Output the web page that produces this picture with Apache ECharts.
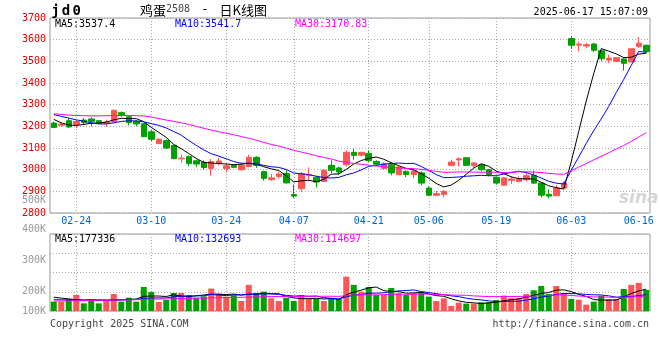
<!DOCTYPE html>
<html><head><meta charset="utf-8">
<script src="https://cdn.jsdelivr.net/npm/echarts@6/dist/echarts.min.js"></script>
<style>html,body{margin:0;padding:0;background:#fff}#c{width:660px;height:360px}</style>
</head><body><div id="c"></div>
<script>
const dates = ['02-19','02-20','02-21','02-24','02-25','02-26','02-27','02-28','03-03','03-04','03-05','03-06','03-07','03-10','03-11','03-12','03-13','03-14','03-17','03-18','03-19','03-20','03-21','03-24','03-25','03-26','03-27','03-28','03-31','04-01','04-02','04-03','04-07','04-08','04-09','04-10','04-11','04-14','04-15','04-16','04-17','04-18','04-21','04-22','04-23','04-24','04-25','04-28','04-29','04-30','05-06','05-07','05-08','05-09','05-12','05-13','05-14','05-15','05-16','05-19','05-20','05-21','05-22','05-23','05-26','05-27','05-28','05-29','05-30','06-03','06-04','06-05','06-06','06-09','06-10','06-11','06-12','06-13','06-16','06-17'];
const labelDates = ['02-24','03-10','03-24','04-07','04-21','05-06','05-19','06-03','06-16'];
const opens = [3215,3205,3226,3209,3229,3234,3226,3214,3220,3263,3244,3223,3212,3175,3120,3134,3112,3050,3060,3041,3034,3006,3031,3005,3020,3000,3015,3057,2991,2954,2969,2982,2885,2912,2972,2965,2946,3020,3008,3023,3080,3067,3074,3038,3005,3023,2977,2992,2978,2985,2915,2882,2886,3020,3045,3055,3018,3022,3000,2965,2928,2951,2946,2954,2974,2938,2886,2880,2915,3605,3575,3571,3580,3549,3506,3500,3511,3497,3569,3574];
const closes = [3195,3211,3197,3223,3218,3223,3214,3220,3274,3254,3218,3211,3152,3140,3140,3100,3051,3053,3028,3026,3010,3037,3040,3018,3011,3020,3057,3020,2960,2962,2980,2939,2878,2982,2977,2943,2997,2997,2989,3080,3066,3080,3042,3025,3028,2985,3012,2978,2994,2938,2882,2889,2900,3035,3050,3020,3031,3000,2977,2938,2962,2957,2958,2972,2938,2882,2878,2915,2938,3574,3580,3577,3551,3512,3515,3517,3491,3558,3584,3545];
const lows = [3192,3198,3192,3192,3208,3200,3212,3197,3217,3243,3205,3200,3152,3131,3118,3095,3048,3031,3018,3012,3000,2972,3020,2988,3008,2995,3011,3008,2949,2949,2959,2936,2868,2898,2946,2918,2943,2985,2975,3015,3046,3060,3035,3020,3000,2974,2974,2966,2960,2928,2877,2880,2872,3015,3015,3018,3009,2992,2969,2931,2928,2935,2942,2946,2934,2872,2868,2877,2912,3557,3546,3562,3543,3500,3492,3497,3457,3497,3562,3538];
const highs = [3222,3217,3238,3229,3238,3241,3228,3231,3278,3269,3249,3228,3215,3183,3145,3140,3114,3069,3065,3046,3043,3049,3054,3028,3023,3031,3069,3062,2995,2980,2989,2997,2932,2989,3011,2969,3003,3043,3014,3088,3097,3083,3088,3043,3034,3031,3016,2997,2998,2992,2923,2902,2906,3046,3057,3057,3035,3028,3000,2969,2966,2969,2969,2988,2995,2943,2908,2929,2946,3618,3592,3585,3585,3554,3531,3518,3515,3558,3612,3577];
const ma5 = [3232,3216,3206,3204,3208.8,3214.4,3215.0,3219.6,3229.8,3237.0,3236.0,3235.4,3221.8,3195.0,3172.2,3148.6,3116.6,3096.8,3074.4,3051.6,3033.6,3030.8,3028.2,3026.2,3023.2,3025.2,3029.2,3025.2,3013.6,3003.8,2995.8,2972.2,2943.8,2948.2,2951.2,2943.8,2955.4,2979.2,2980.6,3001.2,3025.8,3042.4,3051.4,3058.6,3048.2,3032.0,3018.4,3005.6,2999.4,2981.4,2960.8,2936.2,2920.6,2928.8,2951.2,2978.8,3007.2,3027.2,3015.6,2993.2,2981.6,2966.8,2958.4,2957.4,2957.4,2941.4,2925.6,2917.0,2910.2,3037.4,3177.0,3316.8,3444.0,3558.8,3547.0,3534.4,3517.2,3518.6,3533.0,3537.4];
const ma10 = [3254,3246,3238,3230,3224,3216,3211,3211,3216,3222.9,3225.2,3225.2,3220.7,3212.4,3204.6,3192.3,3176.0,3159.3,3134.7,3111.9,3091.1,3073.7,3062.5,3050.3,3037.4,3029.4,3030.0,3026.7,3019.9,3013.5,3010.5,3000.7,2984.5,2980.9,2977.5,2969.8,2963.8,2961.5,2964.4,2976.2,2984.8,2998.9,3015.3,3019.6,3024.7,3028.9,3030.4,3028.5,3029.0,3014.8,2996.4,2977.3,2963.1,2964.1,2966.3,2969.8,2971.7,2973.9,2972.2,2972.2,2980.2,2987.0,2992.8,2986.5,2975.3,2961.5,2946.2,2937.7,2933.8,2997.4,3059.2,3121.2,3180.5,3234.5,3292.2,3355.7,3417.0,3481.3,3545.9,3541.7];
const ma30 = [3258,3255,3252,3250,3249,3248,3248,3249,3250,3250,3250,3249,3248,3243,3236,3229,3223,3216,3209,3200,3191,3183,3175,3168,3161,3153,3145,3136,3126,3116.1,3108.9,3099.9,3089.2,3081.2,3073.2,3063.8,3056.6,3049.2,3039.7,3033.9,3028.8,3024.4,3020.8,3016.9,3013.2,3009.4,3008.1,3005.6,3004.4,3001.5,2997.2,2992.3,2987.6,2988.2,2989.5,2989.5,2988.6,2988.0,2988.5,2987.7,2987.1,2987.7,2990.4,2990.1,2988.8,2986.7,2982.8,2980.0,2978.3,2994.8,3011.9,3028.5,3045.5,3061.7,3077.9,3095.7,3111.6,3131.0,3150.6,3170.83];
// volume in thousands
const volumes = [76,76,98,130,62,90,62,90,138,76,108,76,195,155,73,90,146,146,130,108,119,182,141,117,128,81,212,146,157,103,81,108,81,130,98,98,81,98,98,279,212,157,195,130,130,187,144,130,144,152,117,81,103,41,68,60,60,71,71,90,125,103,103,138,168,203,138,203,146,98,92,52,76,124,97,98,179,212,228,171];
const volMa5 = [112,105,98,92,88.4,91.2,88.4,86.8,88.4,91.2,94.8,97.6,118.6,122,121.4,117.8,131.8,122,117,124,129.8,137,136,133.4,137.4,129.8,135.8,136.8,144.8,139.8,139.8,119,106,100.6,99.6,103,97.6,101,94.6,130.8,153.6,168.8,188.2,194.6,164.8,159.8,157.2,144.2,147,151.4,137.4,124.8,119.4,98.8,82,70.6,66.4,60,66,70.4,83.4,92,98.4,111.8,127.4,143,150,170,171.6,157.6,135.4,118.2,92.8,88.4,88.2,89.4,114.8,142,162.8,177.336];
const volMa10 = [92,91,90,90,89,89,89,89,89,89.8,93,93,102.7,105.2,106.3,106.3,114.7,120.3,119.5,122.7,123.8,134.4,129,125.2,130.7,129.8,136.4,136.4,139.1,138.6,134.8,127.4,121.4,122.7,119.7,121.4,108.3,103.5,97.6,115.2,128.3,133.2,144.6,144.6,147.8,156.7,163,166.2,170.8,158.1,148.6,141,131.8,122.9,116.7,104,95.6,89.7,82.4,76.2,77,79.2,79.2,88.9,98.9,113.2,121,134.2,141.7,142.5,139.2,134.1,131.4,130,122.9,112.4,116.5,117.4,125.6,132.693];
const volMa30 = [80,81,82,83,84,85,86,87,88,89,90,92,94,96,97,98,100,101,102,104,105,107,108,109,110,111,113,114,116,117,117.2,118.3,117.7,117.7,118.9,119.2,119.8,120.1,118.7,125.5,129,131.7,131.7,130.8,132.7,136,135.9,135.4,135.8,137.3,137.2,133.9,132.6,130.1,128.1,127.4,122.3,119.8,116.9,116.5,118,117.8,118.5,118.8,121.1,124.6,126.5,130,131.6,125.6,121.6,118.1,114.1,113.9,112.8,109.9,111,113.8,116.6,114.697];
const volTickLabels = ['100K','200K','300K','400K','500K'];

const UP = '#ff5555', DOWN = '#00a000';
const MONO = '"DejaVu Sans Mono", monospace';
const dotted = {color: '#aaaaaa', type: [1, 2], width: 1};
const gridDates = labelDates.filter(d => d !== '06-16');
const last = a => a[a.length - 1];

const chart = echarts.init(document.getElementById('c'), null, {renderer: 'canvas'});
const lineS = (name, data, color, xi) => ({
  name, type: 'line', data, xAxisIndex: xi, yAxisIndex: xi, symbol: 'none', showSymbol: false,
  lineStyle: {color, width: 1}, silent: true, z: 5
});
const txt = (text, x, y, fill, align) => ({
  type: 'text', x, y, silent: true, z: 100,
  style: {text, fill, font: '10px ' + MONO, textAlign: align || 'left', textVerticalAlign: 'middle'}
});

chart.setOption({
  animation: false,
  backgroundColor: '#fff',
  grid: [
    {left: 50, top: 18, width: 600, height: 195, show: true, borderColor: '#999', borderWidth: 1},
    {left: 50, top: 234, width: 600, height: 77, show: true, borderColor: '#999', borderWidth: 1},
    {left: 50, top: 200, width: 600, height: 111, show: false}
  ],
  xAxis: [
    {type: 'category', gridIndex: 0, data: dates, boundaryGap: true,
      axisLine: {show: false}, axisTick: {show: false, alignWithLabel: true},
      axisLabel: {interval: (i, v) => labelDates.includes(v), color: '#0066cc', fontFamily: MONO, fontSize: 10, margin: 3},
      splitLine: {show: true, interval: (i, v) => gridDates.includes(v), alignWithLabel: true, lineStyle: dotted}},
    {type: 'category', gridIndex: 1, data: dates, boundaryGap: true,
      axisLine: {show: false}, axisTick: {show: false, alignWithLabel: true}, axisLabel: {show: false},
      splitLine: {show: true, interval: (i, v) => gridDates.includes(v), alignWithLabel: true, lineStyle: dotted}},
    {type: 'value', gridIndex: 2, show: false, min: 0, max: 1}
  ],
  yAxis: [
    {type: 'value', gridIndex: 0, min: 2800, max: 3700, interval: 100,
      axisLine: {show: false}, axisTick: {show: false},
      axisLabel: {color: '#e00000', fontFamily: MONO, fontSize: 10, margin: 4, formatter: v => String(v)},
      splitLine: {show: true, lineStyle: dotted}},
    {type: 'value', gridIndex: 1, min: 0, max: 625, interval: 156.25,
      axisLine: {show: false}, axisTick: {show: false}, axisLabel: {show: false},
      splitLine: {show: true, lineStyle: dotted}},
    {type: 'value', gridIndex: 2, min: 0, max: 4, interval: 1,
      axisLine: {show: false}, axisTick: {show: false}, splitLine: {show: false},
      axisLabel: {color: '#999', fontFamily: MONO, fontSize: 10, margin: 4,
        formatter: v => '{s' + v + '|' + volTickLabels[v] + '}',
        rich: {
          s0: {color: '#999', fontFamily: MONO, fontSize: 10},
          s1: {color: '#999', fontFamily: MONO, fontSize: 10, padding: [16, 0, 0, 0]},
          s2: {color: '#999', fontFamily: MONO, fontSize: 10, padding: [9, 0, 0, 0]},
          s3: {color: '#999', fontFamily: MONO, fontSize: 10, padding: [4, 0, 0, 0]},
          s4: {color: '#999', fontFamily: MONO, fontSize: 10}
        }}}
  ],
  series: [
    {name: 'K', type: 'candlestick', xAxisIndex: 0, yAxisIndex: 0, barWidth: 6,
      data: dates.map((d, i) => [opens[i], closes[i], lows[i], highs[i]]),
      itemStyle: {color: UP, color0: DOWN, borderColor: UP, borderColor0: DOWN, borderWidth: 1}, silent: true},
    lineS('MA5', ma5, '#000000', 0),
    lineS('MA10', ma10, '#0000ff', 0),
    lineS('MA30', ma30, '#ff00ff', 0),
    {name: 'VOL', type: 'bar', xAxisIndex: 1, yAxisIndex: 1, barWidth: 6, data: volumes, silent: true,
      itemStyle: {color: p => closes[p.dataIndex] >= opens[p.dataIndex] ? UP : DOWN}},
    lineS('VMA5', volMa5, '#000000', 1),
    lineS('VMA10', volMa10, '#0000ff', 1),
    lineS('VMA30', volMa30, '#ff00ff', 1)
  ],
  graphic: [
    {type: 'text', x: 50, y: 11.5, silent: true, z: 100,
      style: {text: '{c|j}{c|d}{c|0}', textVerticalAlign: 'middle',
        rich: {c: {width: 10.7, align: 'center', font: 'bold 14px ' + MONO, fill: '#000'}}}},
    {type: 'text', x: 140, y: 10, silent: true, z: 100,
      style: {text: '{a|鸡蛋}{b|2508}{c| - }{a|日K线图}', textVerticalAlign: 'middle',
        rich: {a: {font: '13px "Noto Sans CJK SC"', fill: '#000', lineHeight: 16, verticalAlign: 'middle'},
               b: {font: '10px ' + MONO, fill: '#444', lineHeight: 16, verticalAlign: 'middle', padding: [0, 0, 2, 0]},
               c: {font: '13px ' + MONO, fill: '#000', lineHeight: 16, padding: [0, 3, 0, 3], verticalAlign: 'middle'}}}},
    txt('2025-06-17 15:07:09', 648, 12.5, '#000', 'right'),
    txt('MA5:' + last(ma5), 55, 24, '#000'),
    txt('MA10:' + last(ma10), 175, 24, '#0000ff'),
    txt('MA30:' + last(ma30), 295, 24, '#ff00ff'),
    txt('MA5:' + Math.round(last(volMa5) * 1000), 55, 239, '#000'),
    txt('MA10:' + Math.round(last(volMa10) * 1000), 175, 239, '#0000ff'),
    txt('MA30:' + Math.round(last(volMa30) * 1000), 295, 239, '#ff00ff'),
    txt('Copyright 2025 SINA.COM', 50, 324, '#444'),
    txt('http://finance.sina.com.cn', 649, 324, '#444', 'right'),
    {type: 'text', x: 619, y: 199, silent: true, z: 1,
      style: {text: 'sina', fill: '#d6d6d6', font: 'italic bold 17px "DejaVu Sans"', textVerticalAlign: 'middle'}}
  ]
});
</script></body></html>
